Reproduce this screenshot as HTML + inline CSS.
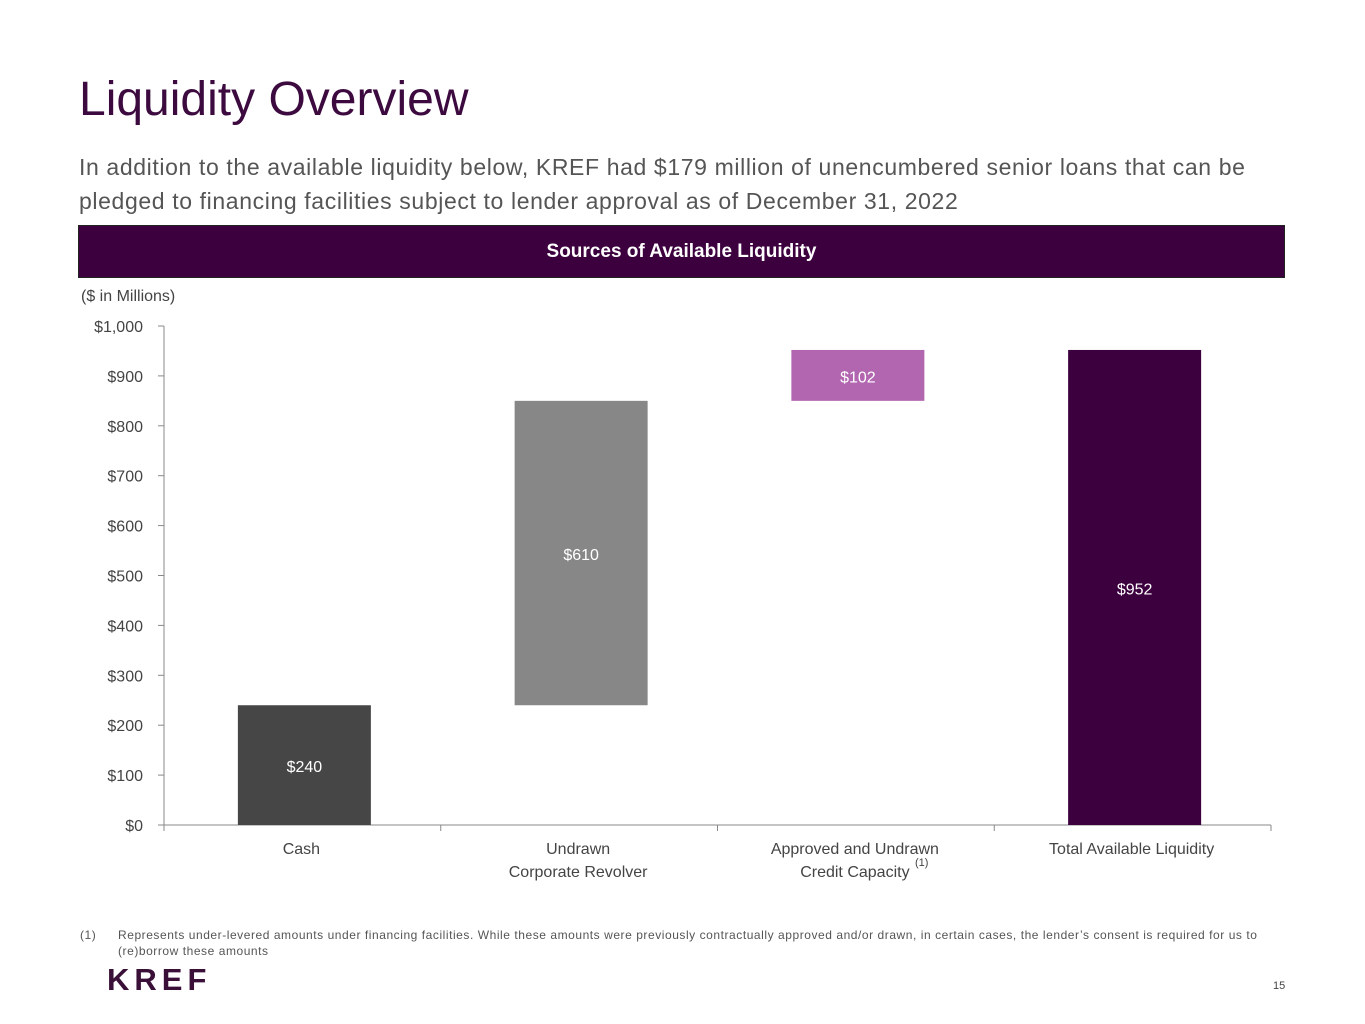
<!DOCTYPE html>
<html><head><meta charset="utf-8">
<style>
body{margin:0;width:1365px;height:1024px;background:#fff;font-family:"Liberation Sans",sans-serif;position:relative;overflow:hidden}
.abs{position:absolute}
</style></head><body>
<div class="abs" style="left:79px;top:72px;font-size:48px;color:#3d0a40;">Liquidity Overview</div>
<div class="abs" style="left:79px;top:150px;width:1250px;font-size:23px;line-height:34px;letter-spacing:0.62px;color:#555;white-space:nowrap;">In addition to the available liquidity below, KREF had $179 million of unencumbered senior loans that can be<br>pledged to financing facilities subject to lender approval as of December 31, 2022</div>
<div class="abs" style="left:78px;top:225px;width:1205px;height:51px;background:#3d003f;border:1px solid #222;color:#fff;font-weight:bold;font-size:19px;line-height:51px;text-align:center;">Sources of Available Liquidity</div>
<div class="abs" style="left:81px;top:288px;font-size:16px;color:#444;">($ in Millions)</div>
<svg class="abs" style="left:0;top:0" width="1365" height="1024" id="chart"></svg>
<div class="abs" style="left:80px;top:927px;width:1200px;font-size:12px;line-height:16px;letter-spacing:0.55px;color:#555;white-space:nowrap;"><span style="position:absolute;left:0">(1)</span><div style="margin-left:38px">Represents under-levered amounts under financing facilities. While these amounts were previously contractually approved and/or drawn, in certain cases, the lender’s consent is required for us to<br>(re)borrow these amounts</div></div>
<div class="abs" style="left:107px;top:962px;font-size:31px;font-weight:bold;letter-spacing:5px;color:#3a1038;">KREF</div>
<div class="abs" style="left:1273px;top:980px;font-size:11px;color:#444;">15</div>
<script>
const categories=["Cash","Undrawn|Corporate Revolver","Approved and Undrawn|Credit Capacity","Total Available Liquidity"];
const values=[240,610,102,952];
const isTotal=[false,false,false,true];
const colors=["#464646","#878787","#b266b0","#3d003f"];
const yTicks=[0,100,200,300,400,500,600,700,800,900,1000];
const tickLabels=["$0","$100","$200","$300","$400","$500","$600","$700","$800","$900","$1,000"];
const svg=document.getElementById('chart');
const NS="http://www.w3.org/2000/svg";
const x0=164,x1=1271,y0=825,y1=326;
const y=v=>y0-(v/1000)*(y0-y1);
const bandW=(x1-x0)/categories.length;
const xC=i=>x0+bandW*(i+0.5)+2;
function mk(t,a){const e=document.createElementNS(NS,t);for(const k in a)e.setAttribute(k,a[k]);svg.appendChild(e);return e;}
let ax=mk('line',{x1:x0,y1:y1,x2:x0,y2:y0,stroke:'#888'});


let bx=mk('line',{x1:x0,y1:y0,x2:x1,y2:y0,stroke:'#888'});


yTicks.forEach((t,i)=>{
 mk('line',{x1:x0-6,y1:y(t),x2:x0,y2:y(t),stroke:'#888'});
 const tx=mk('text',{x:x0-21,y:y(t)+6,'text-anchor':'end','font-size':16,fill:'#444','font-family':'Liberation Sans, sans-serif'});
 tx.textContent=tickLabels[i];
 
 
});
for(let i=0;i<=categories.length;i++)mk('line',{x1:x0+bandW*i,y1:y0,x2:x0+bandW*i,y2:y0+6,stroke:'#888'});
let cum=0;const bw=133;
values.forEach((v,i)=>{
 const base=isTotal[i]?0:cum, top=base+v;
 if(!isTotal[i])cum+=v;
 const r=mk('rect',{x:xC(i)-bw/2,y:y(top),width:bw,height:y(base)-y(top),fill:colors[i]});
 
 
 const l=mk('text',{x:xC(i),y:(y(base)+y(top))/2+7,'text-anchor':'middle','font-size':16,fill:'#fff','font-family':'Liberation Sans, sans-serif'});
 l.textContent='$'+v;
 
 
 const parts=categories[i].split('|');
 parts.forEach((p,j)=>{
  const c=mk('text',{x:xC(i)-3,y:854+j*23,'text-anchor':'middle','font-size':16,fill:'#444','font-family':'Liberation Sans, sans-serif'});
  c.textContent=p;
  
  
 });
});
const sup=mk('text',{x:915,y:866,'font-size':11,fill:'#444','font-family':'Liberation Sans, sans-serif'});
sup.textContent='(1)';


</script>
</body></html>
